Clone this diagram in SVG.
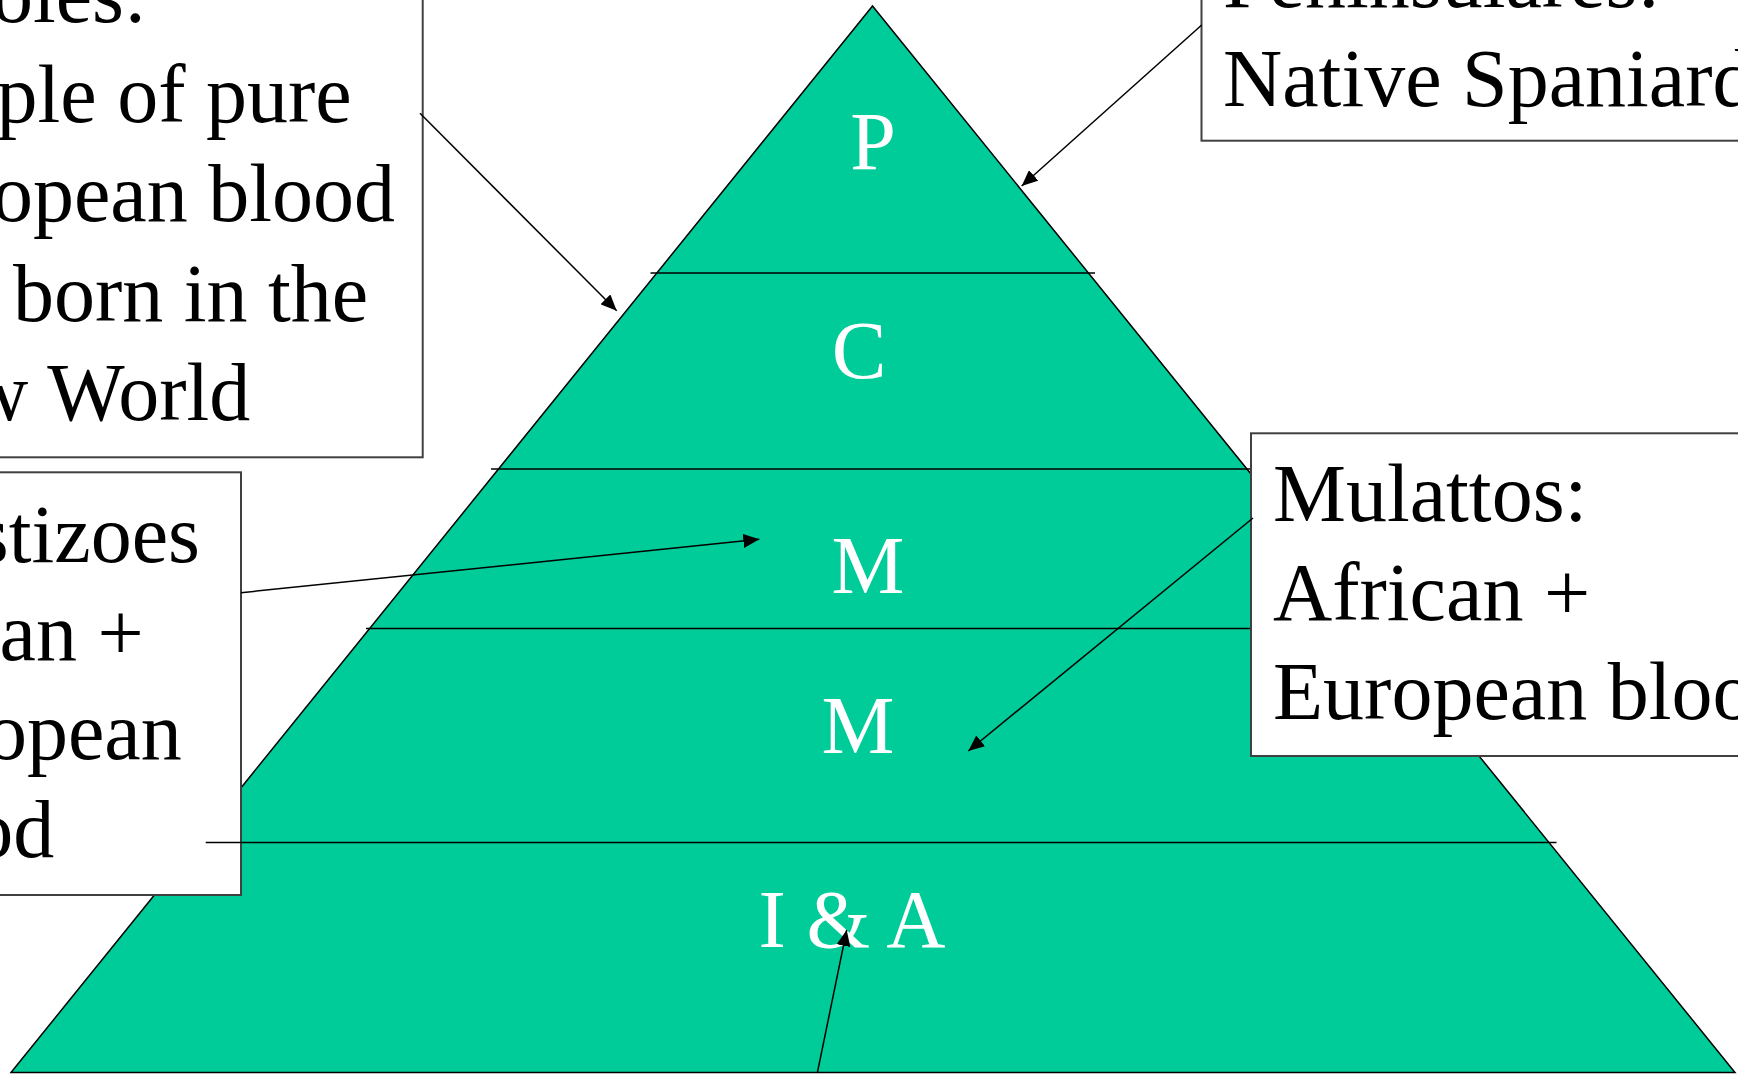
<svg xmlns="http://www.w3.org/2000/svg" width="1738" height="1074" viewBox="0 0 1738 1074">
<defs>
<style>
.lbl{font-family:"Liberation Serif","Times New Roman",serif;font-size:82px;fill:#000}
.tier{font-family:"Liberation Serif","Times New Roman",serif;font-size:82px;fill:#fff;text-anchor:middle}
.box{fill:#fff;stroke:#404040;stroke-width:2}
.div{stroke:#000;stroke-width:1.5;fill:none}
.arr{stroke:#000;stroke-width:1.5;fill:none;marker-end:url(#ah)}
</style>
<marker id="ah" markerUnits="userSpaceOnUse" markerWidth="18" markerHeight="14" refX="16" refY="7" orient="auto">
<path d="M0,0 L16,7 L0,14 z" fill="#000"/>
</marker>
</defs>
<rect width="1738" height="1074" fill="#fff"/>
<g id="pyramid">
<polygon points="872.5,6 11,1072.5 1735,1072.5" fill="#00CC99" stroke="#000" stroke-width="1.5"/>
<line class="div" x1="650.5" y1="273" x2="1095" y2="273"/>
<line class="div" x1="491" y1="469" x2="1260" y2="469"/>
<line class="div" x1="366" y1="628.5" x2="1380" y2="628.5"/>
<text class="tier" x="873" y="169">P</text>
<text class="tier" x="859" y="378">C</text>
<text class="tier" x="868" y="593">M</text>
<text class="tier" x="858" y="753">M</text>
<text class="tier" x="852" y="947">I &amp; A</text>
</g>
<g id="creoles">
<rect class="box" x="-10" y="-10" width="432.7" height="467.3"/>
<text class="lbl" x="-126.5" y="22">Creoles:</text>
<text class="lbl" x="-126.5" y="121.5">People of pure</text>
<text class="lbl" x="-126.5" y="221">European blood</text>
<text class="lbl" x="13" y="320.5">born in the</text>
<text class="lbl" x="-126.5" y="420">New World</text>
</g>
<g id="peninsulares">
<rect class="box" x="1201.5" y="-10" width="560" height="150.7"/>
<text class="lbl" x="1223" y="6.5">Peninsulares:</text>
<text class="lbl" x="1223" y="106">Native Spaniards</text>
</g>
<g id="mestizoes">
<rect class="box" x="-10" y="472.3" width="251" height="422.7"/>
<text class="lbl" x="-132.5" y="561.5">Mestizoes</text>
<text class="lbl" x="-132.5" y="660">Indian +</text>
<text class="lbl" x="-132.5" y="758.5">European</text>
<text class="lbl" x="-132.5" y="857">blood</text>
</g>
<g id="mulattos">
<rect class="box" x="1251" y="433.3" width="520" height="322.7"/>
<text class="lbl" x="1273" y="521">Mulattos:</text>
<text class="lbl" x="1273" y="620">African +</text>
<text class="lbl" x="1273" y="719">European blood</text>
</g>
<g id="connectors">
<line class="div" x1="205.7" y1="842.5" x2="1556.5" y2="842.5"/>
<line class="arr" x1="420" y1="113.3" x2="616.7" y2="310.7"/>
<line class="arr" x1="1201.7" y1="25" x2="1021.7" y2="186"/>
<line class="arr" x1="241" y1="592.7" x2="759.3" y2="539.3"/>
<line class="arr" x1="1253" y1="518" x2="968.3" y2="751"/>
<line class="arr" x1="817.3" y1="1073" x2="846.7" y2="930"/>
</g>
</svg>
